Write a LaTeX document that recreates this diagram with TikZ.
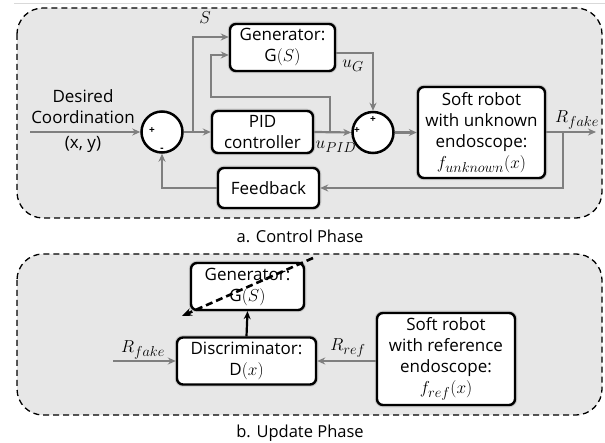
\documentclass[tikz,border=0pt]{standalone}
\usepackage{fontspec}
\setmainfont{Open Sans}
\DeclareMathSizes{16}{16}{13}{10}
\DeclareMathSizes{17}{17}{14}{11}
\DeclareMathSizes{18}{18}{14.5}{11}
\usetikzlibrary{arrows.meta}
\definecolor{panelgray}{HTML}{E7E7E7}
\definecolor{wiregray}{HTML}{7F7F7F}
\begin{document}
\begin{tikzpicture}[x=1pt,y=-1pt,
  panel/.style={draw=black, dash pattern=on 6pt off 4pt, line width=1.3pt, fill=panelgray, rounded corners=26pt},
  blk/.style={draw=black, line width=2.4pt, fill=white, rounded corners=6pt, align=center, inner sep=0pt,
    font=\fontsize{17}{21}\selectfont,
    preaction={draw=black!35, line width=4.5pt, opacity=0.45}},
  sumnode/.style={circle, draw=black, line width=2.5pt, fill=white, minimum size=41pt, inner sep=0pt},
  sgn/.style={font=\bfseries\fontsize{10}{10}\selectfont, inner sep=0pt},
  sig/.style={draw=wiregray, line width=2.2pt, -{Stealth[length=8pt,width=7pt]}},
  wire/.style={draw=wiregray, line width=2.2pt},
  lbl/.style={font=\fontsize{17}{21}\selectfont, align=center, inner sep=0pt},
  mlbl/.style={font=\fontsize{17}{18}\selectfont, inner sep=0pt},
  caption/.style={font=\fontsize{16.5}{18}\selectfont, inner sep=0pt},
]
\useasboundingbox (0,0) rectangle (605,443);
\fill[white] (0,0) rectangle (605,443);
\draw[black!15, line width=0.8pt] (14,3) -- (605,3);

% panels
\draw[panel] (17,8) rectangle (602,218);
\node[caption] (capa) at (300,236) {a. Control Phase};
\draw[panel] (17,254) rectangle (602,415);
\node[caption] (capb) at (300,433) {b. Update Phase};

% ---- control phase ----
\node[blk, minimum width=105pt, minimum height=47pt] (gen) at (282.5,47.5) {Generator:\\G$(S)$};
\node[blk, minimum width=101pt, minimum height=42pt] (pid) at (262.5,132) {PID\\controller};
\node[blk, minimum width=101pt, minimum height=40pt] (fb) at (268.5,188) {Feedback};
\node[blk, minimum width=127pt, minimum height=91pt] (robot) at (481.5,132.5) {Soft robot\\with unknown\\endoscope:\\$f_{unknown}(x)$};
\node[sumnode] (sum1) at (162,132) {};
\node[sumnode] (sum2) at (373,132.5) {};
\node[sgn] (s1a) at (152,131) {+};
\node[sgn] (s1b) at (162,150) {-};
\node[sgn] (s2a) at (373,120) {+};
\node[sgn] (s2b) at (357,131) {+};

\node[lbl] (desired) at (83,121) {Desired\\Coordination\\[4pt](x, y)};
\node[font=\fontsize{18}{18}\selectfont, inner sep=0pt] (slbl) at (205,18) {$S$};
\node[mlbl] (ug) at (353,66) {$u_G$};
\node[mlbl] (upid) at (336,147) {$u_{PID}$};
\node[mlbl] (rfake) at (577,120) {$R_{fake}$};

\coordinate (in) at (30,132);
\coordinate (j1) at (193,132);
\coordinate (gin1) at (0,37);
\coordinate (gin2) at (0,55);
\coordinate (gout) at (0,53);
\coordinate (tap) at (330,132);
\coordinate (loopl) at (211,97);
\coordinate (out) at (596,132);
\coordinate (tap2) at (563,132);

\draw[sig] (in) -- (sum1.west);
\draw[wire] (sum1.east) -- (j1);
\draw[sig] (j1) -- (pid.west);
\draw[sig] (j1) |- (gen.west |- gin1);
\draw[sig] (tap) |- (loopl) |- (gen.west |- gin2);
\draw[sig] (gen.east |- gout) -| (sum2.north);
\draw[sig] (pid.east) -- (sum2.west);
\draw[sig] (sum2.east) -- (robot.west);
\draw[sig] (robot.east |- out) -- (out);
\draw[sig] (tap2) |- (fb.east);
\draw[sig] (fb.west) -| (sum1.south);

% ---- update phase ----
\node[blk, minimum width=113pt, minimum height=47pt] (gen2) at (247.5,286.5) {Generator:\\G$(S)$};
\node[blk, minimum width=139pt, minimum height=47pt] (disc) at (246.5,361) {Discriminator:\\D$(x)$};
\node[blk, minimum width=138pt, minimum height=92pt] (ref) at (446,359) {Soft robot\\with reference\\endoscope:\\$f_{ref}(x)$};
\node[mlbl] (rfake2) at (143,350) {$R_{fake}$};
\node[mlbl] (rref) at (348,348) {$R_{ref}$};

\coordinate (rin) at (113,361);
\coordinate (ds) at (313,258);
\coordinate (de) at (182,316);

\draw[sig] (rin) -- (disc.west);
\draw[sig] (ref.west |- disc.east) -- (disc.east);
\draw[black, line width=2.2pt, -{Stealth[length=8pt,width=7pt]}] (disc.north) -- (gen2.south);
\draw[black, line width=2.6pt, dash pattern=on 7pt off 4pt, -{Stealth[length=10pt,width=8pt]}] (ds) -- (de);
\end{tikzpicture}
\end{document}
